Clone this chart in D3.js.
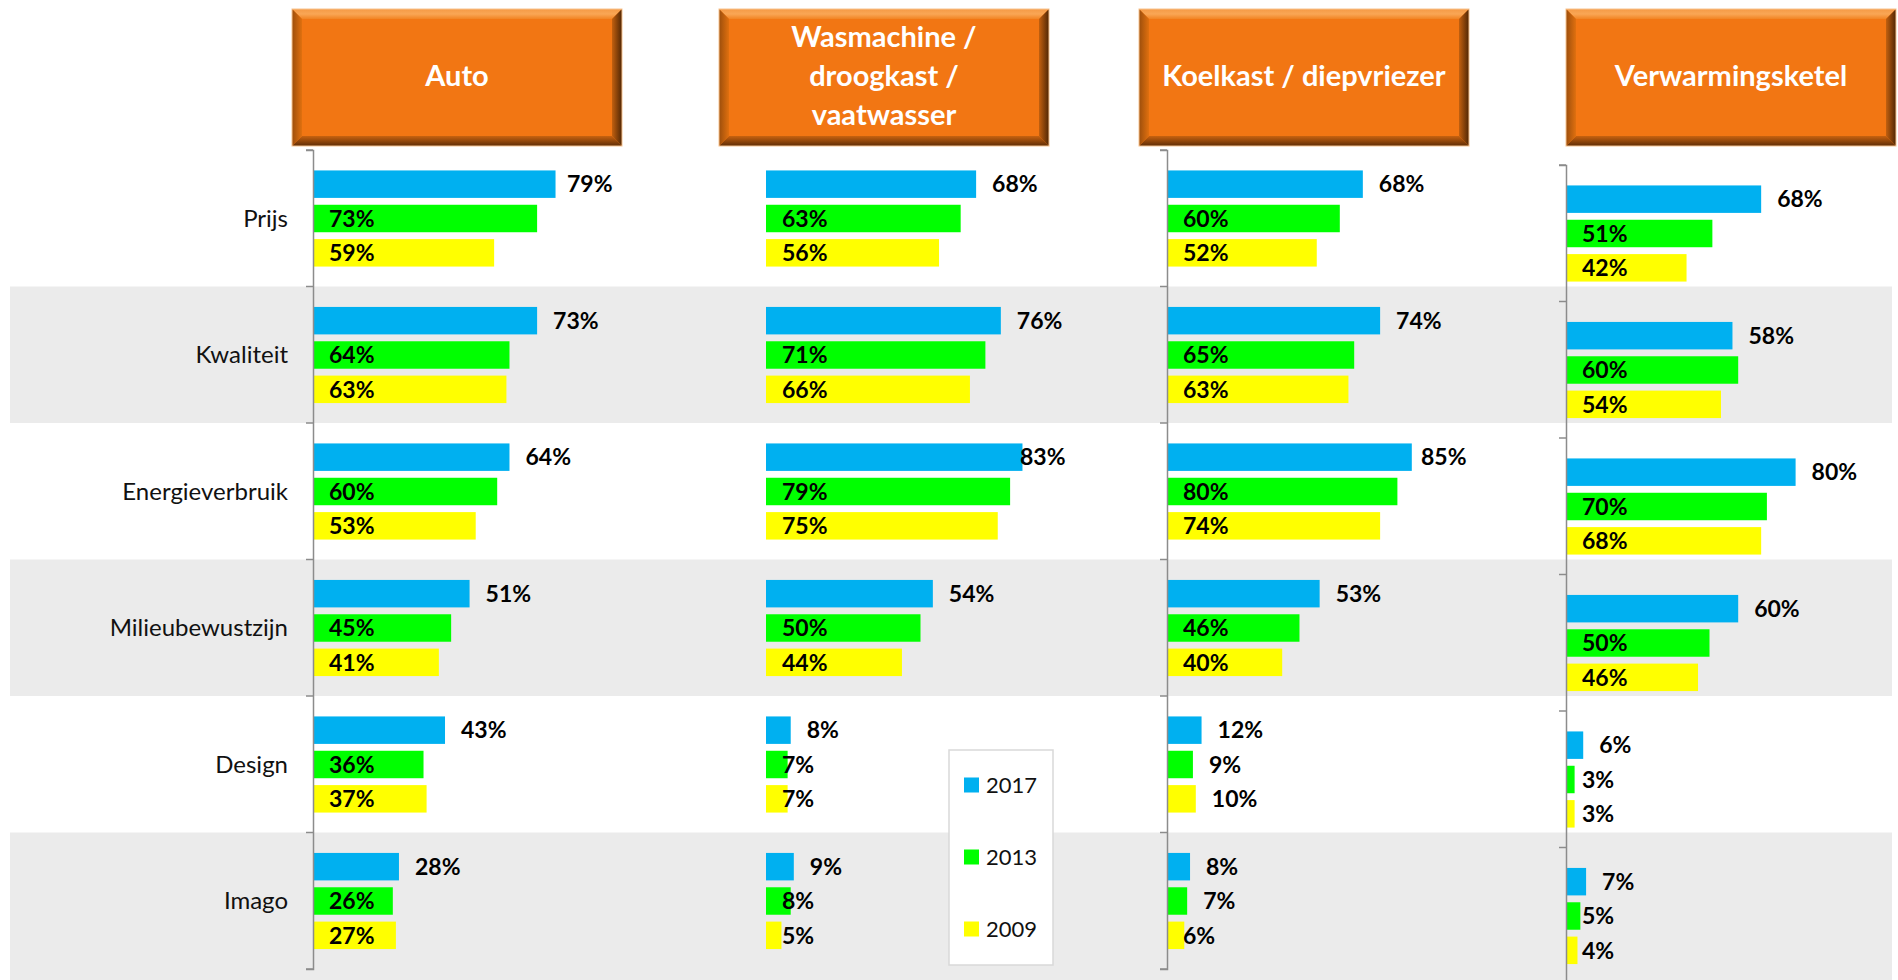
<!DOCTYPE html>
<html>
<head>
<meta charset="utf-8">
<script src="https://cdn.jsdelivr.net/npm/d3@7"></script>
<style>
  body { margin: 0; background: #fff; }
  svg { display: block; }
</style>
</head>
<body>
<div id="chart"></div>
<script>
// categories and series
var categories = ['Prijs', 'Kwaliteit', 'Energieverbruik', 'Milieubewustzijn', 'Design', 'Imago'];
var years = ['2017', '2013', '2009'];
var panelTitles = [['Auto'], ['Wasmachine /', 'droogkast /', 'vaatwasser'], ['Koelkast / diepvriezer'], ['Verwarmingsketel']];

// values per product (order = categories)
var auto2017 = [0.79, 0.73, 0.64, 0.51, 0.43, 0.28];
var auto2013 = [0.73, 0.64, 0.60, 0.45, 0.36, 0.26];
var auto2009 = [0.59, 0.63, 0.53, 0.41, 0.37, 0.27];

var was2017 = [0.68, 0.76, 0.83, 0.54, 0.08, 0.09];
var was2013 = [0.63, 0.71, 0.79, 0.50, 0.07, 0.08];
var was2009 = [0.56, 0.66, 0.75, 0.44, 0.07, 0.05];

var koel2017 = [0.68, 0.74, 0.85, 0.53, 0.12, 0.08];
var koel2013 = [0.60, 0.65, 0.80, 0.46, 0.09, 0.07];
var koel2009 = [0.52, 0.63, 0.74, 0.40, 0.10, 0.06];

var verw2017 = [0.68, 0.58, 0.80, 0.60, 0.06, 0.07];
var verw2013 = [0.51, 0.60, 0.70, 0.50, 0.03, 0.05];
var verw2009 = [0.42, 0.54, 0.68, 0.46, 0.03, 0.04];

var series = [
  [auto2017, auto2013, auto2009],
  [was2017, was2013, was2009],
  [koel2017, koel2013, koel2009],
  [verw2017, verw2013, verw2009]
];

// layout of each panel (pixels), not data
var panelLayout = [
  { box: 292, base: 313, width: 307, dy: 0, axis: true, smallOutside: false },
  { box: 719, base: 766, width: 309, dy: 0, axis: false, smallOutside: false },
  { box: 1139, base: 1167, width: 288, dy: 0, axis: true, smallOutside: true },
  { box: 1566, base: 1566, width: 287, dy: 15, axis: true, smallOutside: false }
];

var W = 1898, H = 980;
var colors = d3.scaleOrdinal().domain(years).range(['#00b0f0', '#00ff00', '#ffff00']);

var svg = d3.select('#chart').append('svg')
  .attr('width', W)
  .attr('height', H);

var defs = svg.append('defs');
var grad = function(id, x2, y2, stops) {
  var g = defs.append('linearGradient').attr('id', id)
    .attr('x1', 0).attr('y1', 0).attr('x2', x2).attr('y2', y2);
  stops.forEach(function(s) {
    g.append('stop').attr('offset', s[0]).attr('stop-color', s[1]);
  });
};
grad('bevTop', 0, 1, [[0, '#f59a45'], [0.5, '#f9a655'], [1, '#f28423']]);
grad('bevBottom', 0, 1, [[0, '#c8620f'], [1, '#5e2d07']]);
grad('bevRight', 1, 0, [[0, '#c2600f'], [1, '#4f2605']]);
grad('bevLeft', 1, 0, [[0, '#9c4e0c'], [1, '#e0700f']]);

var rowScale = d3.scaleBand()
  .domain(categories)
  .range([150, 969]);

var inner = d3.scaleBand()
  .domain(years)
  .range([17, 120])
  .paddingInner(0.2)
  .paddingOuter(0.1);

// alternating grey bands
svg.append('g').selectAll('rect')
  .data(categories.filter(function(c, i) { return i % 2 == 1; }))
  .enter()
  .append('rect')
  .attr('x', 10)
  .attr('y', function(d) { return rowScale(d); })
  .attr('width', 1882)
  .attr('height', function(d) {
    return d == categories[categories.length - 1] ? H - rowScale(d) : rowScale.step();
  })
  .style('fill', '#ebebeb');

// category labels
svg.append('g').selectAll('text')
  .data(categories)
  .enter()
  .append('text')
  .attr('x', 288)
  .attr('y', function(d) { return rowScale(d) + rowScale.step() / 2; })
  .attr('dy', '0.35em')
  .attr('text-anchor', 'end')
  .style('font-family', 'Lato, "Open Sans", sans-serif')
  .style('font-size', '24px')
  .style('fill', '#111')
  .text(function(d) { return d; });

var draw_panel = function(p) {
  var lay = panelLayout[p];
  var x = d3.scaleLinear().domain([0, 1]).range([lay.base, lay.base + lay.width]);
  var g = svg.append('g').attr('class', 'panel')
    .attr('transform', 'translate(0,' + lay.dy + ')');

  // header box with bevel
  var hx = lay.box, hy = 9, hw = 330, hh = 137, b = 10;
  var head = svg.append('g').attr('class', 'header');
  head.append('rect')
    .attr('x', hx).attr('y', hy).attr('width', hw).attr('height', hh)
    .style('fill', '#f27613');
  var poly = function(pts, fill) {
    head.append('polygon')
      .attr('points', pts.map(function(q) { return q.join(','); }).join(' '))
      .style('fill', fill);
  };
  poly([[hx, hy], [hx + hw, hy], [hx + hw - b, hy + b], [hx + b, hy + b]], 'url(#bevTop)');
  poly([[hx, hy + hh], [hx + b, hy + hh - b], [hx + hw - b, hy + hh - b], [hx + hw, hy + hh]], 'url(#bevBottom)');
  poly([[hx + hw, hy], [hx + hw, hy + hh], [hx + hw - b, hy + hh - b], [hx + hw - b, hy + b]], 'url(#bevRight)');
  poly([[hx, hy], [hx + b, hy + b], [hx + b, hy + hh - b], [hx, hy + hh]], 'url(#bevLeft)');
  head.append('rect')
    .attr('x', hx).attr('y', hy).attr('width', hw).attr('height', hh)
    .style('fill', 'none').style('stroke', '#f7c38f').style('stroke-width', 1);

  var lines = panelTitles[p];
  head.selectAll('text.title')
    .data(lines)
    .enter()
    .append('text')
    .attr('class', 'title')
    .attr('x', hx + hw / 2)
    .attr('y', function(d, i) { return hy + hh / 2 - 2 + (i - (lines.length - 1) / 2) * 39; })
    .attr('dy', '0.35em')
    .attr('text-anchor', 'middle')
    .style('font-family', 'Lato, "Open Sans", sans-serif')
    .style('font-weight', 'bold')
    .style('font-size', '29px')
    .style('fill', '#fff')
    .text(function(d) { return d; });

  // bars
  var rows = [];
  categories.forEach(function(c, ci) {
    years.forEach(function(yr, yi) {
      rows.push({ cat: c, year: yr, yi: yi, v: series[p][yi][ci] });
    });
  });

  g.selectAll('rect.bar')
    .data(rows)
    .enter()
    .append('rect')
    .attr('class', 'bar')
    .attr('x', x(0))
    .attr('y', function(d) { return rowScale(d.cat) + inner(d.year); })
    .attr('width', function(d) { return x(d.v) - x(0); })
    .attr('height', inner.bandwidth())
    .style('fill', function(d) { return colors(d.year); });

  g.selectAll('text.lbl')
    .data(rows)
    .enter()
    .append('text')
    .attr('class', 'lbl')
    .attr('x', function(d) {
      if (d.yi == 0 || (lay.smallOutside && d.v < 0.15 && d.v > 0.065)) {
        return Math.min(x(d.v) + 16, x(0) + 254);
      }
      return x(0) + 16;
    })
    .attr('y', function(d) { return rowScale(d.cat) + inner(d.year) + inner.bandwidth() / 2; })
    .attr('dy', '0.36em')
    .style('font-family', 'Lato, "Open Sans", sans-serif')
    .style('font-weight', 'bold')
    .style('font-size', '23px')
    .style('fill', '#000')
    .text(function(d) { return Math.round(d.v * 100) + '%'; });

  // category axis
  if (lay.axis) {
    var axis = d3.axisLeft(rowScale)
      .tickSizeInner(7)
      .tickSizeOuter(7)
      .tickFormat('');
    var ag = g.append('g')
      .attr('transform', 'translate(' + x(0) + ',0)')
      .call(axis);
    ag.selectAll('.tick').remove();
    ag.selectAll('.tk')
      .data(d3.range(categories.length + 1))
      .enter()
      .append('line')
      .attr('x1', -7).attr('x2', 0)
      .attr('y1', function(i) { return rowScale.range()[0] + i * rowScale.step(); })
      .attr('y2', function(i) { return rowScale.range()[0] + i * rowScale.step(); })
      .style('stroke', '#8c8c8c').style('stroke-width', 1.5);
    ag.select('.domain').style('stroke', '#8c8c8c').style('stroke-width', 1.5);
  }
};

for (var p = 0; p < panelTitles.length; p++) {
  draw_panel(p);
}

// legend
var leg = svg.append('g').attr('class', 'legend');
leg.append('rect')
  .attr('x', 949).attr('y', 750).attr('width', 104).attr('height', 215)
  .style('fill', '#fff').style('stroke', '#d9d9d9').style('stroke-width', 1.5);
var legY = d3.scalePoint().domain(years).range([785, 929]);
leg.selectAll('rect.sw')
  .data(years)
  .enter()
  .append('rect')
  .attr('class', 'sw')
  .attr('x', 964)
  .attr('y', function(d) { return legY(d) - 7.5; })
  .attr('width', 15).attr('height', 15)
  .style('fill', function(d) { return colors(d); });
leg.selectAll('text')
  .data(years)
  .enter()
  .append('text')
  .attr('x', 986)
  .attr('y', function(d) { return legY(d); })
  .attr('dy', '0.36em')
  .style('font-family', 'Lato, "Open Sans", sans-serif')
  .style('font-size', '22px')
  .style('fill', '#111')
  .text(function(d) { return d; });
</script>
</body>
</html>
